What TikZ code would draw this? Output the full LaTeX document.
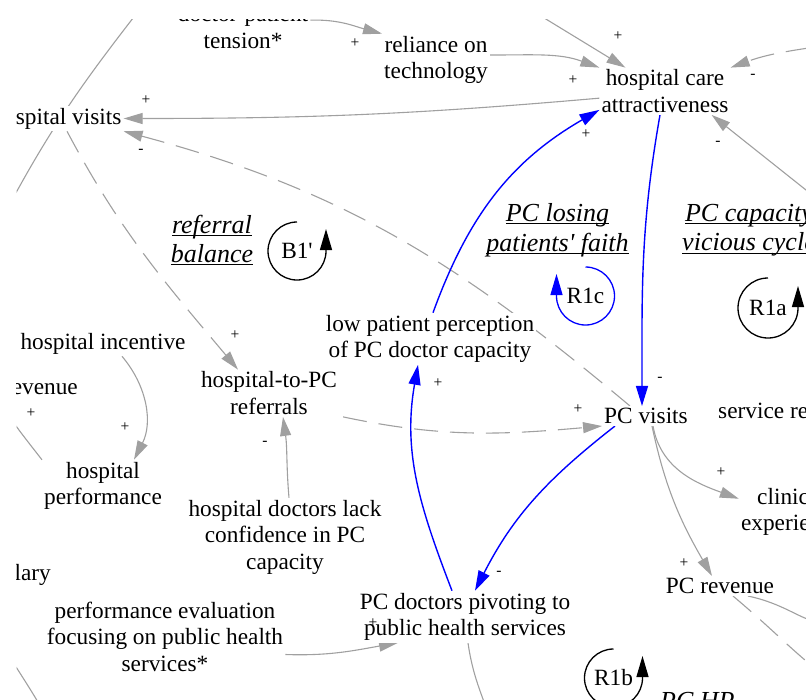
\documentclass[tikz,border=0pt]{standalone}
\usepackage{fontspec}
\setmainfont{Liberation Serif}
\usetikzlibrary{arrows.meta}
\definecolor{linkgray}{RGB}{160,160,160}
\newcommand\loopul[1]{\underline{\raisebox{0pt}[\height][0.5pt]{#1}}}
\pgfdeclarelayer{links}
\pgfsetlayers{links,main}

\begin{document}
\begin{tikzpicture}[x=1pt, y=1pt,
    var/.style={align=center, inner sep=2pt, fill=white, font=\fontsize{23.3}{26.5}\selectfont},
    looplbl/.style={align=center, inner sep=0pt, font=\fontsize{26}{29.5}\selectfont\itshape},
    loopid/.style={inner sep=0pt, font=\fontsize{23.3}{26.5}\selectfont},
    loopc/.style={line width=1.3pt, -{Triangle[length=21pt,width=12pt]}},
    pol/.style={inner sep=0pt, font=\fontsize{15.5}{15.5}\selectfont},
    lnk/.style={draw=linkgray, line width=1.1pt, -{Triangle[length=19pt,width=11pt]}},
    dlnk/.style={lnk, dash pattern=on 24pt off 12pt},
    blnk/.style={draw=blue, line width=1.4pt, -{Triangle[length=20pt,width=12pt]}}]
    \useasboundingbox (0,0) rectangle (806,-699);
    \clip (16.5,-19) rectangle (806,-699);

    % variables
    \node[var] (dpt) at (243,-27.25) {doctor-patient\\tension*};
    \node[var] (rot) at (436,-59.75) {reliance on\\technology};
    \node[var] (hca) at (665,-91.25) {hospital care\\attractiveness};
    \node[var] (hv) at (57,-118.5) {hospital visits};
    \node[var] (hip) at (103,-343.5) {hospital incentive};
    \node[var, anchor=east] (hrev) at (80,-388.5) {hospital revenue};
    \node[var] (h2pc) at (269,-393.25) {hospital-to-PC\\referrals};
    \node[var] (lpp) at (430,-338.75) {low patient perception\\of PC doctor capacity};
    \node[var] (pcv) at (646,-416) {PC visits};
    \node[var, anchor=west] (srv) at (716,-411) {service revenue};
    \node[var] (hperf) at (103,-485.75) {hospital\\performance};
    \node[var] (hdlc) at (285,-537) {hospital doctors lack\\confidence in PC\\capacity};
    \node[var, anchor=east] (sal) at (53,-575) {salary};
    \node[var] (pe) at (165,-636.5) {performance evaluation\\focusing on public health\\services*};
    \node[var] (pcd) at (465,-616.75) {PC doctors pivoting to\\public health services};
    \node[var] (cle) at (791.5,-511.75) {clinical\\experience};
    \node[var] (pcr) at (720,-586) {PC revenue};

    % loop names
    \node[looplbl] (lbl1) at (212,-240) {\loopul{referral}\\\loopul{balance}};
    \node[looplbl] (lbl1c) at (557.5,-228.7) {\loopul{PC losing}\\\loopul{patients\textquotesingle{} faith}};
    \node[looplbl] (lbl1a) at (749,-228.7) {\loopul{PC capacity}\\\loopul{vicious cycle}};
    \node[looplbl, anchor=base west] (lbl1b) at (660,-709) {\loopul{PC HP}};

    % loop markers
    \node[loopid] (b1) at (297,-251) {B1\textquotesingle};
    \draw[loopc] ([yshift=29pt]b1.center) arc[start angle=90, end angle=360, radius=29pt] -- ++(0,22);
    \node[loopid] (r1c) at (585.5,-296) {R1c};
    \draw[loopc, blue] ([yshift=29pt]r1c.center) arc[start angle=90, end angle=-180, radius=29pt] -- ++(0,22);
    \node[loopid] (r1a) at (768,-308) {R1a};
    \draw[loopc] ([yshift=30pt]r1a.center) arc[start angle=90, end angle=360, radius=30pt] -- ++(0,22);
    \node[loopid] (r1b) at (613.5,-678) {R1b};
    \draw[loopc] ([yshift=29pt]r1b.center) arc[start angle=90, end angle=360, radius=29pt] -- ++(0,22);

    % polarities
    \node[pol] (s1) at (355,-43) {+};
    \node[pol] (s2) at (618,-36) {+};
    \node[pol] (s3) at (573,-80) {+};
    \node[pol] (s4) at (753,-76) {-};
    \node[pol] (s5) at (718,-143) {-};
    \node[pol] (s6) at (146,-100) {+};
    \node[pol] (s7) at (141,-151) {-};
    \node[pol] (s8) at (586,-134) {+};
    \node[pol] (s9) at (660,-379) {-};
    \node[pol] (s10) at (235,-335) {+};
    \node[pol] (s11) at (31,-413) {+};
    \node[pol] (s12) at (125,-427) {+};
    \node[pol] (s13) at (578,-409) {+};
    \node[pol] (s14) at (438,-383) {+};
    \node[pol] (s15) at (265,-443) {-};
    \node[pol] (s16) at (721,-472) {+};
    \node[pol] (s17) at (499,-573) {-};
    \node[pol] (s18) at (684,-563) {+};
    \node[pol] (s19) at (373,-623) {+};

    \begin{pgfonlayer}{links}
    \clip (16.5,-19) rectangle (806,-699);
    \coordinate (topsrc) at (500,9);
    \coordinate (rsrc) at (845,-42);
    \coordinate (lrsrc) at (850,-225);
    \coordinate (arcA) at (144,-4);
    \coordinate (arcB) at (4,-215);
    \coordinate (blA) at (6,-651);
    \coordinate (blB) at (45,-714);
    \coordinate (pcdout) at (492,-730);
    \coordinate (pcrA) at (835,-625);
    \coordinate (pcrB) at (845,-690);

    % into hospital care attractiveness
    \draw[lnk] (dpt.6) to[out=2, in=165] (rot.north west);
    \draw[lnk] (topsrc) -- ([xshift=26pt]hca.north west);
    \draw[lnk] (rot.5) to[out=0, in=160] (hca.north west);
    \draw[dlnk] (rsrc) to[out=190, in=20] (hca.north east);
    \draw[lnk] (lrsrc) -- ([xshift=-19pt]hca.south east);

    % hospital side
    \draw[lnk] (hca.186) to[out=185, in=0] (hv.east);
    \draw[dlnk] (pcv.148) to[out=140, in=-15] (hv.south east);
    \draw[dlnk] ([xshift=10pt]hv.south) to[out=-62, in=130] ([xshift=-31pt]h2pc.north);
    \draw[lnk, -] (arcA) to[out=-128, in=62] (arcB);
    \draw[lnk] ([xshift=19pt]hip.south) to[out=-50, in=63] ([xshift=31pt]hperf.north);
    \draw[lnk] (hperf.north west) to[out=128, in=-60] (hrev.south);
    \draw[dlnk] ([xshift=4pt]h2pc.south east) to[out=-12, in=185] (pcv.south west);
    \draw[lnk] ([xshift=4pt]hdlc.north) to[out=95, in=-82] ([xshift=14pt]h2pc.south);
    \draw[lnk] ([yshift=-18pt]pe.east) to[out=-2, in=190] ([xshift=-67pt]pcd.south);
    \draw[lnk, -] (blA) to[out=-58, in=120] (blB);
    \draw[lnk] ([xshift=3pt]pcd.south) to[out=-82, in=105] (pcdout);

    % PC side
    \draw[lnk] ([xshift=7pt]pcv.south) to[out=-80, in=160] ([yshift=13pt]cle.west);
    \draw[lnk] ([xshift=6pt]pcv.south) to[out=-78, in=120] ([xshift=-8pt]pcr.north);
    \draw[lnk] ([xshift=28pt]pcr.south) to[out=-12, in=170] (pcrA);
    \draw[dlnk] ([xshift=13pt]pcr.south) to[out=-40, in=145] (pcrB);

    % R1c loop
    \draw[blnk] ([xshift=3pt]lpp.north) to[out=70, in=-150] ([yshift=5pt]hca.south west);
    \draw[blnk] ([xshift=-5pt]hca.south) to[out=-100, in=90] ([xshift=-4pt]pcv.north);
    \draw[blnk] ([xshift=-31pt]pcv.south) to[out=-142, in=63] ([xshift=10pt]pcd.north);
    \draw[blnk] ([xshift=-13pt]pcd.north) to[out=111, in=-100] ([xshift=-12pt]lpp.south);
    \end{pgfonlayer}
\end{tikzpicture}
\end{document}
